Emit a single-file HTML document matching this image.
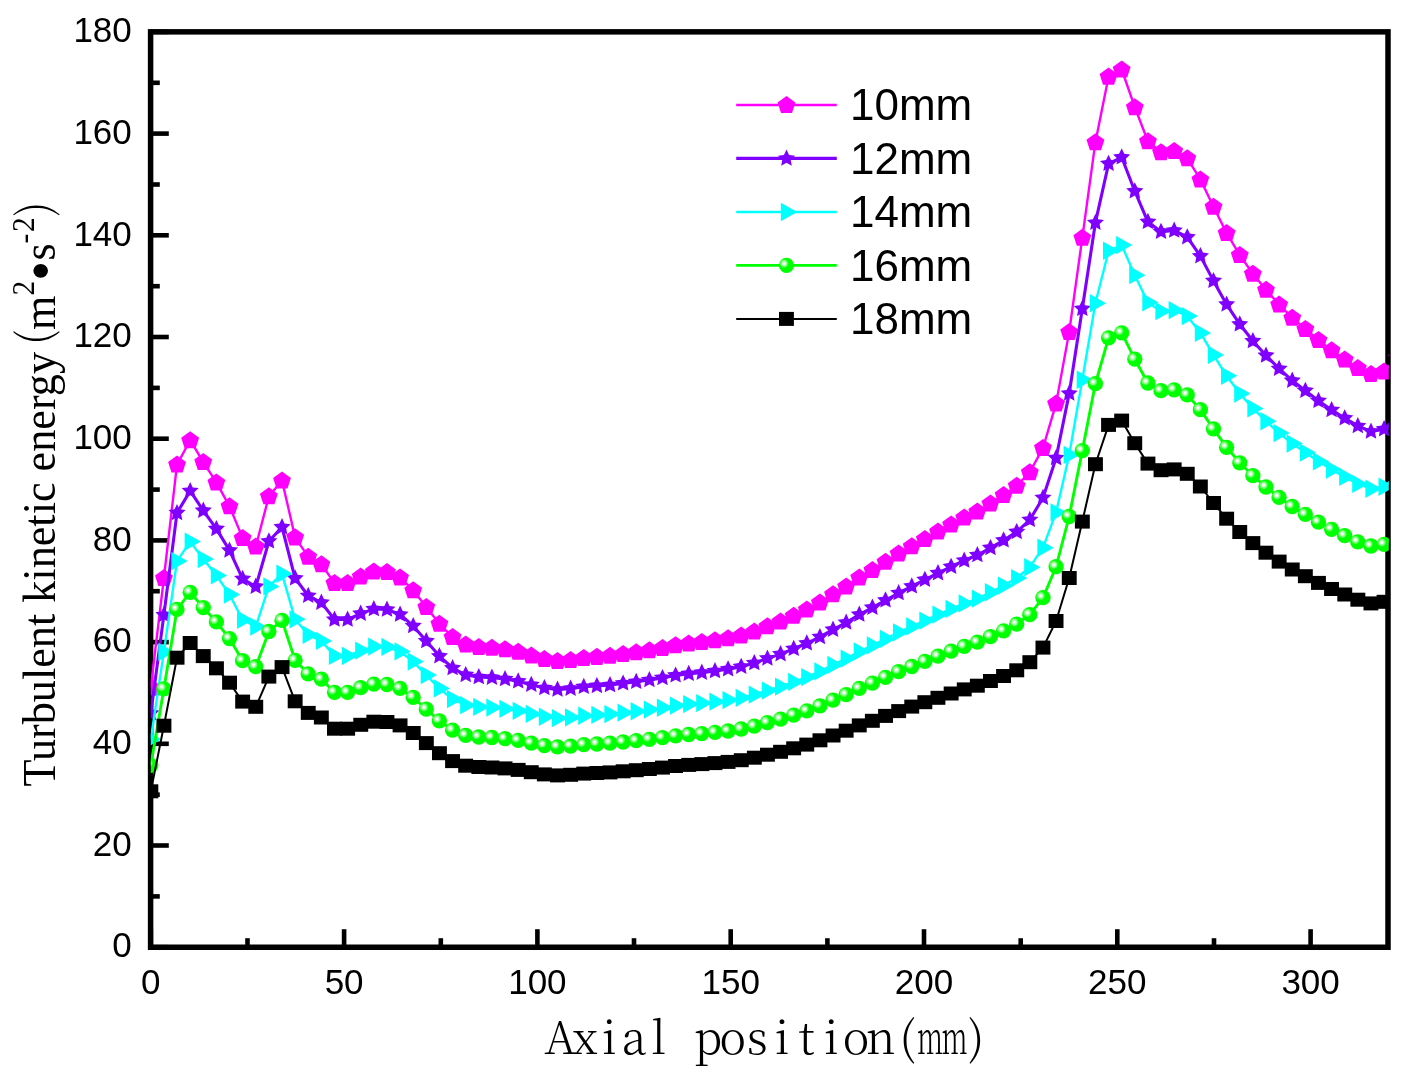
<!DOCTYPE html>
<html><head><meta charset="utf-8"><title>Turbulent kinetic energy</title>
<style>
html,body{margin:0;padding:0;background:#fff;}
svg{display:block;}
text{font-family:"Liberation Sans",sans-serif;fill:#000;}
.tk{font-size:35px;}
.lg{font-size:44px;}
.yl{font-family:"Liberation Serif",serif;font-size:44.2px;}
.pr{font-family:"Noto Serif CJK SC","Liberation Serif",serif;font-size:42px;font-weight:300;}
.xl{font-family:"Noto Serif CJK SC","Liberation Serif",serif;font-size:45px;font-weight:300;}
</style></head><body>
<svg width="1411" height="1075" viewBox="0 0 1411 1075">
<defs>
<radialGradient id="gb" cx="0.343" cy="0.376" r="0.3" fx="0.343" fy="0.376">
<stop offset="0" stop-color="#ffffff"/><stop offset="0.18" stop-color="#ffffff"/><stop offset="0.45" stop-color="#b0ffb0"/><stop offset="0.75" stop-color="#58ff58"/><stop offset="1" stop-color="#00ff00"/>
</radialGradient>
<clipPath id="cp"><rect x="150.8" y="32" width="1238" height="915.2"/></clipPath>
</defs>
<rect width="1411" height="1075" fill="#fff"/>

<rect x="150.6" y="31.85" width="1237.4" height="915.4" stroke="#000" stroke-width="5.5" fill="none"/>
<g stroke="#000" stroke-width="4.6" fill="none" stroke-linecap="butt">
<line x1="150.8" y1="947.2" x2="150.8" y2="929.2"/>
<line x1="247.5" y1="947.2" x2="247.5" y2="938.2"/>
<line x1="344.1" y1="947.2" x2="344.1" y2="929.2"/>
<line x1="440.8" y1="947.2" x2="440.8" y2="938.2"/>
<line x1="537.4" y1="947.2" x2="537.4" y2="929.2"/>
<line x1="634.0" y1="947.2" x2="634.0" y2="938.2"/>
<line x1="730.7" y1="947.2" x2="730.7" y2="929.2"/>
<line x1="827.4" y1="947.2" x2="827.4" y2="938.2"/>
<line x1="924.0" y1="947.2" x2="924.0" y2="929.2"/>
<line x1="1020.7" y1="947.2" x2="1020.7" y2="938.2"/>
<line x1="1117.3" y1="947.2" x2="1117.3" y2="929.2"/>
<line x1="1214.0" y1="947.2" x2="1214.0" y2="938.2"/>
<line x1="1310.6" y1="947.2" x2="1310.6" y2="929.2"/>
<line x1="150.8" y1="947.2" x2="168.8" y2="947.2"/>
<line x1="150.8" y1="896.4" x2="159.8" y2="896.4"/>
<line x1="150.8" y1="845.5" x2="168.8" y2="845.5"/>
<line x1="150.8" y1="794.7" x2="159.8" y2="794.7"/>
<line x1="150.8" y1="743.8" x2="168.8" y2="743.8"/>
<line x1="150.8" y1="693.0" x2="159.8" y2="693.0"/>
<line x1="150.8" y1="642.1" x2="168.8" y2="642.1"/>
<line x1="150.8" y1="591.2" x2="159.8" y2="591.2"/>
<line x1="150.8" y1="540.4" x2="168.8" y2="540.4"/>
<line x1="150.8" y1="489.6" x2="159.8" y2="489.6"/>
<line x1="150.8" y1="438.7" x2="168.8" y2="438.7"/>
<line x1="150.8" y1="387.9" x2="159.8" y2="387.9"/>
<line x1="150.8" y1="337.0" x2="168.8" y2="337.0"/>
<line x1="150.8" y1="286.2" x2="159.8" y2="286.2"/>
<line x1="150.8" y1="235.3" x2="168.8" y2="235.3"/>
<line x1="150.8" y1="184.5" x2="159.8" y2="184.5"/>
<line x1="150.8" y1="133.6" x2="168.8" y2="133.6"/>
<line x1="150.8" y1="82.8" x2="159.8" y2="82.8"/>
<line x1="150.8" y1="31.9" x2="168.8" y2="31.9"/>
</g>
<text class="tk" x="150.8" y="994.3" text-anchor="middle">0</text>
<text class="tk" x="344.1" y="994.3" text-anchor="middle">50</text>
<text class="tk" x="537.4" y="994.3" text-anchor="middle">100</text>
<text class="tk" x="730.7" y="994.3" text-anchor="middle">150</text>
<text class="tk" x="924.0" y="994.3" text-anchor="middle">200</text>
<text class="tk" x="1117.3" y="994.3" text-anchor="middle">250</text>
<text class="tk" x="1310.6" y="994.3" text-anchor="middle">300</text>
<text class="tk" x="131.8" y="957.4" text-anchor="end">0</text>
<text class="tk" x="131.8" y="855.7" text-anchor="end">20</text>
<text class="tk" x="131.8" y="754.0" text-anchor="end">40</text>
<text class="tk" x="131.8" y="652.3" text-anchor="end">60</text>
<text class="tk" x="131.8" y="550.6" text-anchor="end">80</text>
<text class="tk" x="131.8" y="448.9" text-anchor="end">100</text>
<text class="tk" x="131.8" y="347.2" text-anchor="end">120</text>
<text class="tk" x="131.8" y="245.5" text-anchor="end">140</text>
<text class="tk" x="131.8" y="143.8" text-anchor="end">160</text>
<text class="tk" x="131.8" y="42.1" text-anchor="end">180</text>
<text class="xl" y="1054.2" text-anchor="middle"><tspan x="560.2 584.9 609.5 634.2 658.8 683.5 708.1 732.8 757.4 782.1 806.7 831.4 856.0 880.7 907.5">Axial position(</tspan><tspan x="930.0" textLength="26" lengthAdjust="spacingAndGlyphs">m</tspan><tspan x="954.6" textLength="26" lengthAdjust="spacingAndGlyphs">m</tspan><tspan x="976.3">)</tspan></text>
<text class="yl" transform="translate(55.2,786.5) rotate(-90) scale(1,1.07)">Turbulent kinetic energy <tspan class="pr" dx="-4" dy="-4.5">(</tspan><tspan dy="4.5">m</tspan><tspan dy="-20.2" font-size="29.4">2</tspan><tspan dy="25.7" font-size="58">•</tspan><tspan dy="-5.5">s</tspan><tspan dy="-20.2" font-size="29.4">-</tspan><tspan dx="1.5" font-size="29.4">2</tspan><tspan class="pr" dx="1" dy="15.7">)</tspan></text>
<g clip-path="url(#cp)">
<polyline points="150.8,687.4 163.9,578.0 177.0,464.6 190.2,440.2 203.3,462.1 216.4,482.4 229.5,506.3 242.6,537.9 255.8,546.5 268.9,496.2 282.0,480.4 295.1,537.3 308.2,556.7 321.4,564.3 334.5,583.1 347.6,583.1 360.7,576.5 373.8,571.4 387.0,571.9 400.1,577.5 413.2,590.2 426.3,607.0 439.4,623.8 452.6,637.0 465.7,644.6 478.8,646.9 491.9,647.7 505.0,649.2 518.2,651.8 531.3,655.6 544.4,659.1 557.5,660.9 570.6,659.9 583.8,657.9 596.9,656.8 610.0,655.8 623.1,654.0 636.2,652.3 649.4,650.2 662.5,647.9 675.6,645.2 688.7,643.4 701.8,642.1 715.0,640.3 728.1,638.3 741.2,635.5 754.3,631.4 767.4,626.3 780.6,621.5 793.7,615.7 806.8,609.6 819.9,602.4 833.0,594.3 846.2,586.4 859.3,577.5 872.4,569.9 885.5,561.8 898.6,553.6 911.8,546.2 924.9,538.9 938.0,531.5 951.1,524.4 964.2,517.5 977.4,511.4 990.5,503.5 1003.6,495.1 1016.7,485.7 1029.8,472.3 1043.0,447.9 1056.1,403.6 1069.2,331.9 1082.3,237.8 1095.4,142.2 1108.6,76.6 1121.7,69.5 1134.8,107.2 1147.9,141.2 1161.0,152.2 1174.2,150.9 1187.3,158.3 1200.4,179.4 1213.5,206.8 1226.6,233.0 1239.8,255.1 1252.9,273.7 1266.0,289.7 1279.1,304.5 1292.2,317.7 1305.4,328.9 1318.5,340.1 1331.6,350.2 1344.7,359.4 1357.8,368.0 1371.0,374.1 1384.1,371.6 1397.2,357.3" fill="none" stroke="#ff00ff" stroke-width="2.4" stroke-linejoin="round"/>
<polygon points="150.8,678.4 159.7,684.9 156.3,695.4 145.3,695.4 141.9,684.9" fill="#ff00ff"/>
<polygon points="163.9,569.0 172.9,575.5 169.4,586.0 158.4,586.0 155.0,575.5" fill="#ff00ff"/>
<polygon points="177.0,455.6 186.0,462.1 182.6,472.6 171.5,472.6 168.1,462.1" fill="#ff00ff"/>
<polygon points="190.2,431.2 199.1,437.7 195.7,448.2 184.6,448.2 181.2,437.7" fill="#ff00ff"/>
<polygon points="203.3,453.1 212.2,459.6 208.8,470.1 197.8,470.1 194.3,459.6" fill="#ff00ff"/>
<polygon points="216.4,473.4 225.3,479.9 221.9,490.4 210.9,490.4 207.5,479.9" fill="#ff00ff"/>
<polygon points="229.5,497.3 238.5,503.8 235.0,514.3 224.0,514.3 220.6,503.8" fill="#ff00ff"/>
<polygon points="242.6,528.9 251.6,535.4 248.2,545.9 237.1,545.9 233.7,535.4" fill="#ff00ff"/>
<polygon points="255.8,537.5 264.7,544.0 261.3,554.5 250.2,554.5 246.8,544.0" fill="#ff00ff"/>
<polygon points="268.9,487.2 277.8,493.7 274.4,504.2 263.4,504.2 259.9,493.7" fill="#ff00ff"/>
<polygon points="282.0,471.4 290.9,477.9 287.5,488.4 276.5,488.4 273.1,477.9" fill="#ff00ff"/>
<polygon points="295.1,528.3 304.1,534.8 300.6,545.4 289.6,545.4 286.2,534.8" fill="#ff00ff"/>
<polygon points="308.2,547.7 317.2,554.2 313.8,564.7 302.7,564.7 299.3,554.2" fill="#ff00ff"/>
<polygon points="321.4,555.3 330.3,561.8 326.9,572.3 315.8,572.3 312.4,561.8" fill="#ff00ff"/>
<polygon points="334.5,574.1 343.4,580.6 340.0,591.1 329.0,591.1 325.5,580.6" fill="#ff00ff"/>
<polygon points="347.6,574.1 356.5,580.6 353.1,591.1 342.1,591.1 338.7,580.6" fill="#ff00ff"/>
<polygon points="360.7,567.5 369.7,574.0 366.2,584.5 355.2,584.5 351.8,574.0" fill="#ff00ff"/>
<polygon points="373.8,562.4 382.8,568.9 379.4,579.4 368.3,579.4 364.9,568.9" fill="#ff00ff"/>
<polygon points="387.0,562.9 395.9,569.4 392.5,579.9 381.4,579.9 378.0,569.4" fill="#ff00ff"/>
<polygon points="400.1,568.5 409.0,575.0 405.6,585.5 394.6,585.5 391.1,575.0" fill="#ff00ff"/>
<polygon points="413.2,581.2 422.1,587.7 418.7,598.2 407.7,598.2 404.3,587.7" fill="#ff00ff"/>
<polygon points="426.3,598.0 435.3,604.5 431.8,615.0 420.8,615.0 417.4,604.5" fill="#ff00ff"/>
<polygon points="439.4,614.8 448.4,621.3 445.0,631.8 433.9,631.8 430.5,621.3" fill="#ff00ff"/>
<polygon points="452.6,628.0 461.5,634.5 458.1,645.0 447.0,645.0 443.6,634.5" fill="#ff00ff"/>
<polygon points="465.7,635.6 474.6,642.1 471.2,652.6 460.2,652.6 456.7,642.1" fill="#ff00ff"/>
<polygon points="478.8,637.9 487.7,644.4 484.3,654.9 473.3,654.9 469.9,644.4" fill="#ff00ff"/>
<polygon points="491.9,638.7 500.9,645.2 497.4,655.7 486.4,655.7 483.0,645.2" fill="#ff00ff"/>
<polygon points="505.0,640.2 514.0,646.7 510.6,657.2 499.5,657.2 496.1,646.7" fill="#ff00ff"/>
<polygon points="518.2,642.8 527.1,649.3 523.7,659.8 512.6,659.8 509.2,649.3" fill="#ff00ff"/>
<polygon points="531.3,646.6 540.2,653.1 536.8,663.6 525.8,663.6 522.3,653.1" fill="#ff00ff"/>
<polygon points="544.4,650.1 553.3,656.6 549.9,667.1 538.9,667.1 535.5,656.6" fill="#ff00ff"/>
<polygon points="557.5,651.9 566.5,658.4 563.0,668.9 552.0,668.9 548.6,658.4" fill="#ff00ff"/>
<polygon points="570.6,650.9 579.6,657.4 576.2,667.9 565.1,667.9 561.7,657.4" fill="#ff00ff"/>
<polygon points="583.8,648.9 592.7,655.4 589.3,665.9 578.2,665.9 574.8,655.4" fill="#ff00ff"/>
<polygon points="596.9,647.8 605.8,654.3 602.4,664.9 591.4,664.9 587.9,654.3" fill="#ff00ff"/>
<polygon points="610.0,646.8 618.9,653.3 615.5,663.8 604.5,663.8 601.1,653.3" fill="#ff00ff"/>
<polygon points="623.1,645.0 632.1,651.5 628.6,662.1 617.6,662.1 614.2,651.5" fill="#ff00ff"/>
<polygon points="636.2,643.3 645.2,649.8 641.8,660.3 630.7,660.3 627.3,649.8" fill="#ff00ff"/>
<polygon points="649.4,641.2 658.3,647.7 654.9,658.2 643.8,658.2 640.4,647.7" fill="#ff00ff"/>
<polygon points="662.5,638.9 671.4,645.4 668.0,656.0 657.0,656.0 653.5,645.4" fill="#ff00ff"/>
<polygon points="675.6,636.2 684.5,642.6 681.1,653.2 670.1,653.2 666.7,642.6" fill="#ff00ff"/>
<polygon points="688.7,634.4 697.7,640.9 694.2,651.4 683.2,651.4 679.8,640.9" fill="#ff00ff"/>
<polygon points="701.8,633.1 710.8,639.6 707.4,650.1 696.3,650.1 692.9,639.6" fill="#ff00ff"/>
<polygon points="715.0,631.3 723.9,637.8 720.5,648.3 709.4,648.3 706.0,637.8" fill="#ff00ff"/>
<polygon points="728.1,629.3 737.0,635.8 733.6,646.3 722.6,646.3 719.1,635.8" fill="#ff00ff"/>
<polygon points="741.2,626.5 750.1,633.0 746.7,643.5 735.7,643.5 732.3,633.0" fill="#ff00ff"/>
<polygon points="754.3,622.4 763.3,628.9 759.8,639.4 748.8,639.4 745.4,628.9" fill="#ff00ff"/>
<polygon points="767.4,617.3 776.4,623.8 773.0,634.3 761.9,634.3 758.5,623.8" fill="#ff00ff"/>
<polygon points="780.6,612.5 789.5,619.0 786.1,629.5 775.0,629.5 771.6,619.0" fill="#ff00ff"/>
<polygon points="793.7,606.7 802.6,613.2 799.2,623.7 788.2,623.7 784.7,613.2" fill="#ff00ff"/>
<polygon points="806.8,600.6 815.7,607.1 812.3,617.6 801.3,617.6 797.9,607.1" fill="#ff00ff"/>
<polygon points="819.9,593.4 828.9,599.9 825.4,610.4 814.4,610.4 811.0,599.9" fill="#ff00ff"/>
<polygon points="833.0,585.3 842.0,591.8 838.6,602.3 827.5,602.3 824.1,591.8" fill="#ff00ff"/>
<polygon points="846.2,577.4 855.1,583.9 851.7,594.4 840.6,594.4 837.2,583.9" fill="#ff00ff"/>
<polygon points="859.3,568.5 868.2,575.0 864.8,585.5 853.8,585.5 850.3,575.0" fill="#ff00ff"/>
<polygon points="872.4,560.9 881.3,567.4 877.9,577.9 866.9,577.9 863.5,567.4" fill="#ff00ff"/>
<polygon points="885.5,552.8 894.5,559.3 891.0,569.8 880.0,569.8 876.6,559.3" fill="#ff00ff"/>
<polygon points="898.6,544.6 907.6,551.1 904.2,561.6 893.1,561.6 889.7,551.1" fill="#ff00ff"/>
<polygon points="911.8,537.2 920.7,543.7 917.3,554.3 906.2,554.3 902.8,543.7" fill="#ff00ff"/>
<polygon points="924.9,529.9 933.8,536.4 930.4,546.9 919.4,546.9 915.9,536.4" fill="#ff00ff"/>
<polygon points="938.0,522.5 946.9,529.0 943.5,539.5 932.5,539.5 929.1,529.0" fill="#ff00ff"/>
<polygon points="951.1,515.4 960.1,521.9 956.6,532.4 945.6,532.4 942.2,521.9" fill="#ff00ff"/>
<polygon points="964.2,508.5 973.2,515.0 969.8,525.5 958.7,525.5 955.3,515.0" fill="#ff00ff"/>
<polygon points="977.4,502.4 986.3,508.9 982.9,519.4 971.8,519.4 968.4,508.9" fill="#ff00ff"/>
<polygon points="990.5,494.5 999.4,501.0 996.0,511.5 985.0,511.5 981.5,501.0" fill="#ff00ff"/>
<polygon points="1003.6,486.1 1012.5,492.6 1009.1,503.1 998.1,503.1 994.7,492.6" fill="#ff00ff"/>
<polygon points="1016.7,476.7 1025.7,483.2 1022.2,493.7 1011.2,493.7 1007.8,483.2" fill="#ff00ff"/>
<polygon points="1029.8,463.3 1038.8,469.8 1035.4,480.3 1024.3,480.3 1020.9,469.8" fill="#ff00ff"/>
<polygon points="1043.0,438.9 1051.9,445.3 1048.5,455.9 1037.4,455.9 1034.0,445.3" fill="#ff00ff"/>
<polygon points="1056.1,394.6 1065.0,401.1 1061.6,411.6 1050.6,411.6 1047.1,401.1" fill="#ff00ff"/>
<polygon points="1069.2,322.9 1078.1,329.4 1074.7,339.9 1063.7,339.9 1060.3,329.4" fill="#ff00ff"/>
<polygon points="1082.3,228.8 1091.3,235.3 1087.8,245.8 1076.8,245.8 1073.4,235.3" fill="#ff00ff"/>
<polygon points="1095.4,133.2 1104.4,139.7 1101.0,150.2 1089.9,150.2 1086.5,139.7" fill="#ff00ff"/>
<polygon points="1108.6,67.6 1117.5,74.1 1114.1,84.7 1103.0,84.7 1099.6,74.1" fill="#ff00ff"/>
<polygon points="1121.7,60.5 1130.6,67.0 1127.2,77.5 1116.2,77.5 1112.7,67.0" fill="#ff00ff"/>
<polygon points="1134.8,98.2 1143.7,104.7 1140.3,115.2 1129.3,115.2 1125.9,104.7" fill="#ff00ff"/>
<polygon points="1147.9,132.2 1156.9,138.7 1153.4,149.2 1142.4,149.2 1139.0,138.7" fill="#ff00ff"/>
<polygon points="1161.0,143.2 1170.0,149.7 1166.6,160.2 1155.5,160.2 1152.1,149.7" fill="#ff00ff"/>
<polygon points="1174.2,141.9 1183.1,148.4 1179.7,158.9 1168.6,158.9 1165.2,148.4" fill="#ff00ff"/>
<polygon points="1187.3,149.3 1196.2,155.8 1192.8,166.3 1181.8,166.3 1178.3,155.8" fill="#ff00ff"/>
<polygon points="1200.4,170.4 1209.3,176.9 1205.9,187.4 1194.9,187.4 1191.5,176.9" fill="#ff00ff"/>
<polygon points="1213.5,197.8 1222.5,204.3 1219.0,214.8 1208.0,214.8 1204.6,204.3" fill="#ff00ff"/>
<polygon points="1226.6,224.0 1235.6,230.5 1232.2,241.0 1221.1,241.0 1217.7,230.5" fill="#ff00ff"/>
<polygon points="1239.8,246.1 1248.7,252.6 1245.3,263.1 1234.2,263.1 1230.8,252.6" fill="#ff00ff"/>
<polygon points="1252.9,264.7 1261.8,271.2 1258.4,281.7 1247.4,281.7 1243.9,271.2" fill="#ff00ff"/>
<polygon points="1266.0,280.7 1274.9,287.2 1271.5,297.7 1260.5,297.7 1257.1,287.2" fill="#ff00ff"/>
<polygon points="1279.1,295.5 1288.1,302.0 1284.6,312.5 1273.6,312.5 1270.2,302.0" fill="#ff00ff"/>
<polygon points="1292.2,308.7 1301.2,315.2 1297.8,325.7 1286.7,325.7 1283.3,315.2" fill="#ff00ff"/>
<polygon points="1305.4,319.9 1314.3,326.4 1310.9,336.9 1299.8,336.9 1296.4,326.4" fill="#ff00ff"/>
<polygon points="1318.5,331.1 1327.4,337.5 1324.0,348.1 1313.0,348.1 1309.5,337.5" fill="#ff00ff"/>
<polygon points="1331.6,341.2 1340.5,347.7 1337.1,358.2 1326.1,358.2 1322.7,347.7" fill="#ff00ff"/>
<polygon points="1344.7,350.4 1353.7,356.9 1350.2,367.4 1339.2,367.4 1335.8,356.9" fill="#ff00ff"/>
<polygon points="1357.8,359.0 1366.8,365.5 1363.4,376.0 1352.3,376.0 1348.9,365.5" fill="#ff00ff"/>
<polygon points="1371.0,365.1 1379.9,371.6 1376.5,382.1 1365.4,382.1 1362.0,371.6" fill="#ff00ff"/>
<polygon points="1384.1,362.6 1393.0,369.1 1389.6,379.6 1378.6,379.6 1375.1,369.1" fill="#ff00ff"/>
<polygon points="1397.2,348.3 1406.1,354.8 1402.7,365.3 1391.7,365.3 1388.3,354.8" fill="#ff00ff"/>
<polyline points="150.8,713.3 163.9,614.9 177.0,512.9 190.2,490.9 203.3,510.6 216.4,528.9 229.5,550.4 242.6,578.8 255.8,586.6 268.9,541.3 282.0,527.1 295.1,578.3 308.2,595.7 321.4,602.6 334.5,619.5 347.6,619.5 360.7,613.6 373.8,609.0 387.0,609.5 400.1,614.5 413.2,625.9 426.3,641.0 439.4,656.1 452.6,668.0 465.7,674.9 478.8,677.0 491.9,677.6 505.0,679.0 518.2,681.3 531.3,684.7 544.4,687.9 557.5,689.5 570.6,688.6 583.8,686.8 596.9,685.9 610.0,685.0 623.1,683.4 636.2,681.8 649.4,679.9 662.5,677.9 675.6,675.4 688.7,673.8 701.8,672.6 715.0,671.0 728.1,669.2 741.2,666.7 754.3,663.0 767.4,658.4 780.6,654.1 793.7,648.8 806.8,643.3 819.9,636.9 833.0,629.6 846.2,622.5 859.3,614.5 872.4,607.6 885.5,600.3 898.6,593.0 911.8,586.3 924.9,579.7 938.0,573.1 951.1,566.7 964.2,560.5 977.4,555.0 990.5,547.9 1003.6,540.3 1016.7,531.9 1029.8,519.8 1043.0,497.8 1056.1,458.0 1069.2,393.4 1082.3,308.8 1095.4,222.7 1108.6,163.7 1121.7,157.3 1134.8,191.2 1147.9,221.8 1161.0,231.7 1174.2,230.5 1187.3,237.2 1200.4,256.1 1213.5,280.9 1226.6,304.4 1239.8,324.3 1252.9,341.0 1266.0,355.5 1279.1,368.7 1292.2,380.6 1305.4,390.7 1318.5,400.8 1331.6,409.9 1344.7,418.2 1357.8,425.9 1371.0,431.4 1384.1,429.1 1397.2,416.3" fill="none" stroke="#8000ff" stroke-width="3.1" stroke-linejoin="round"/>
<polygon points="150.8,704.3 153.4,709.8 159.4,710.6 155.0,714.7 156.1,720.6 150.8,717.7 145.5,720.6 146.6,714.7 142.2,710.6 148.2,709.8" fill="#8000ff"/>
<polygon points="163.9,605.9 166.5,611.4 172.5,612.2 168.1,616.3 169.2,622.2 163.9,619.3 158.6,622.2 159.7,616.3 155.4,612.2 161.3,611.4" fill="#8000ff"/>
<polygon points="177.0,503.9 179.6,509.3 185.6,510.1 181.2,514.2 182.3,520.2 177.0,517.3 171.7,520.2 172.9,514.2 168.5,510.1 174.5,509.3" fill="#8000ff"/>
<polygon points="190.2,481.9 192.7,487.4 198.7,488.1 194.3,492.3 195.5,498.2 190.2,495.3 184.9,498.2 186.0,492.3 181.6,488.1 187.6,487.4" fill="#8000ff"/>
<polygon points="203.3,501.6 205.9,507.0 211.8,507.8 207.5,512.0 208.6,517.9 203.3,515.0 198.0,517.9 199.1,512.0 194.7,507.8 200.7,507.0" fill="#8000ff"/>
<polygon points="216.4,519.9 219.0,525.3 225.0,526.1 220.6,530.3 221.7,536.2 216.4,533.3 211.1,536.2 212.2,530.3 207.8,526.1 213.8,525.3" fill="#8000ff"/>
<polygon points="229.5,541.4 232.1,546.9 238.1,547.6 233.7,551.8 234.8,557.7 229.5,554.8 224.2,557.7 225.3,551.8 221.0,547.6 226.9,546.9" fill="#8000ff"/>
<polygon points="242.6,569.8 245.2,575.2 251.2,576.0 246.8,580.2 247.9,586.1 242.6,583.2 237.3,586.1 238.5,580.2 234.1,576.0 240.1,575.2" fill="#8000ff"/>
<polygon points="255.8,577.6 258.3,583.0 264.3,583.8 259.9,587.9 261.1,593.9 255.8,591.0 250.5,593.9 251.6,587.9 247.2,583.8 253.2,583.0" fill="#8000ff"/>
<polygon points="268.9,532.3 271.5,537.7 277.4,538.5 273.1,542.6 274.2,548.5 268.9,545.7 263.6,548.5 264.7,542.6 260.3,538.5 266.3,537.7" fill="#8000ff"/>
<polygon points="282.0,518.1 284.6,523.5 290.6,524.3 286.2,528.4 287.3,534.4 282.0,531.5 276.7,534.4 277.8,528.4 273.4,524.3 279.4,523.5" fill="#8000ff"/>
<polygon points="295.1,569.3 297.7,574.8 303.7,575.6 299.3,579.7 300.4,585.6 295.1,582.7 289.8,585.6 290.9,579.7 286.6,575.6 292.5,574.8" fill="#8000ff"/>
<polygon points="308.2,586.7 310.8,592.2 316.8,592.9 312.4,597.1 313.5,603.0 308.2,600.1 302.9,603.0 304.1,597.1 299.7,592.9 305.7,592.2" fill="#8000ff"/>
<polygon points="321.4,593.6 323.9,599.0 329.9,599.8 325.5,603.9 326.7,609.9 321.4,607.0 316.1,609.9 317.2,603.9 312.8,599.8 318.8,599.0" fill="#8000ff"/>
<polygon points="334.5,610.5 337.1,616.0 343.0,616.7 338.7,620.9 339.8,626.8 334.5,623.9 329.2,626.8 330.3,620.9 325.9,616.7 331.9,616.0" fill="#8000ff"/>
<polygon points="347.6,610.5 350.2,616.0 356.2,616.7 351.8,620.9 352.9,626.8 347.6,623.9 342.3,626.8 343.4,620.9 339.0,616.7 345.0,616.0" fill="#8000ff"/>
<polygon points="360.7,604.6 363.3,610.0 369.3,610.8 364.9,614.9 366.0,620.9 360.7,618.0 355.4,620.9 356.5,614.9 352.2,610.8 358.1,610.0" fill="#8000ff"/>
<polygon points="373.8,600.0 376.4,605.4 382.4,606.2 378.0,610.4 379.1,616.3 373.8,613.4 368.5,616.3 369.7,610.4 365.3,606.2 371.3,605.4" fill="#8000ff"/>
<polygon points="387.0,600.5 389.5,605.9 395.5,606.7 391.1,610.8 392.3,616.7 387.0,613.9 381.7,616.7 382.8,610.8 378.4,606.7 384.4,605.9" fill="#8000ff"/>
<polygon points="400.1,605.5 402.7,610.9 408.6,611.7 404.3,615.8 405.4,621.8 400.1,618.9 394.8,621.8 395.9,615.8 391.5,611.7 397.5,610.9" fill="#8000ff"/>
<polygon points="413.2,616.9 415.8,622.4 421.8,623.1 417.4,627.3 418.5,633.2 413.2,630.3 407.9,633.2 409.0,627.3 404.6,623.1 410.6,622.4" fill="#8000ff"/>
<polygon points="426.3,632.0 428.9,637.5 434.9,638.3 430.5,642.4 431.6,648.3 426.3,645.4 421.0,648.3 422.1,642.4 417.8,638.3 423.7,637.5" fill="#8000ff"/>
<polygon points="439.4,647.1 442.0,652.6 448.0,653.4 443.6,657.5 444.7,663.4 439.4,660.5 434.1,663.4 435.3,657.5 430.9,653.4 436.9,652.6" fill="#8000ff"/>
<polygon points="452.6,659.0 455.1,664.5 461.1,665.3 456.7,669.4 457.9,675.3 452.6,672.4 447.3,675.3 448.4,669.4 444.0,665.3 450.0,664.5" fill="#8000ff"/>
<polygon points="465.7,665.9 468.3,671.3 474.2,672.1 469.9,676.3 471.0,682.2 465.7,679.3 460.4,682.2 461.5,676.3 457.1,672.1 463.1,671.3" fill="#8000ff"/>
<polygon points="478.8,668.0 481.4,673.4 487.4,674.2 483.0,678.3 484.1,684.2 478.8,681.4 473.5,684.2 474.6,678.3 470.2,674.2 476.2,673.4" fill="#8000ff"/>
<polygon points="491.9,668.6 494.5,674.1 500.5,674.9 496.1,679.0 497.2,684.9 491.9,682.0 486.6,684.9 487.7,679.0 483.4,674.9 489.3,674.1" fill="#8000ff"/>
<polygon points="505.0,670.0 507.6,675.5 513.6,676.2 509.2,680.4 510.3,686.3 505.0,683.4 499.7,686.3 500.9,680.4 496.5,676.2 502.5,675.5" fill="#8000ff"/>
<polygon points="518.2,672.3 520.7,677.7 526.7,678.5 522.3,682.7 523.5,688.6 518.2,685.7 512.9,688.6 514.0,682.7 509.6,678.5 515.6,677.7" fill="#8000ff"/>
<polygon points="531.3,675.7 533.9,681.2 539.8,682.0 535.5,686.1 536.6,692.0 531.3,689.1 526.0,692.0 527.1,686.1 522.7,682.0 528.7,681.2" fill="#8000ff"/>
<polygon points="544.4,678.9 547.0,684.4 553.0,685.2 548.6,689.3 549.7,695.2 544.4,692.3 539.1,695.2 540.2,689.3 535.8,685.2 541.8,684.4" fill="#8000ff"/>
<polygon points="557.5,680.5 560.1,686.0 566.1,686.8 561.7,690.9 562.8,696.8 557.5,693.9 552.2,696.8 553.3,690.9 549.0,686.8 554.9,686.0" fill="#8000ff"/>
<polygon points="570.6,679.6 573.2,685.1 579.2,685.8 574.8,690.0 575.9,695.9 570.6,693.0 565.3,695.9 566.5,690.0 562.1,685.8 568.1,685.1" fill="#8000ff"/>
<polygon points="583.8,677.8 586.3,683.2 592.3,684.0 587.9,688.2 589.1,694.1 583.8,691.2 578.5,694.1 579.6,688.2 575.2,684.0 581.2,683.2" fill="#8000ff"/>
<polygon points="596.9,676.9 599.5,682.3 605.4,683.1 601.1,687.2 602.2,693.2 596.9,690.3 591.6,693.2 592.7,687.2 588.3,683.1 594.3,682.3" fill="#8000ff"/>
<polygon points="610.0,676.0 612.6,681.4 618.6,682.2 614.2,686.3 615.3,692.2 610.0,689.4 604.7,692.2 605.8,686.3 601.4,682.2 607.4,681.4" fill="#8000ff"/>
<polygon points="623.1,674.4 625.7,679.8 631.7,680.6 627.3,684.7 628.4,690.6 623.1,687.8 617.8,690.6 618.9,684.7 614.6,680.6 620.5,679.8" fill="#8000ff"/>
<polygon points="636.2,672.8 638.8,678.2 644.8,679.0 640.4,683.1 641.5,689.0 636.2,686.2 630.9,689.0 632.1,683.1 627.7,679.0 633.7,678.2" fill="#8000ff"/>
<polygon points="649.4,670.9 651.9,676.4 657.9,677.2 653.5,681.3 654.7,687.2 649.4,684.3 644.1,687.2 645.2,681.3 640.8,677.2 646.8,676.4" fill="#8000ff"/>
<polygon points="662.5,668.9 665.1,674.3 671.0,675.1 666.7,679.2 667.8,685.2 662.5,682.3 657.2,685.2 658.3,679.2 653.9,675.1 659.9,674.3" fill="#8000ff"/>
<polygon points="675.6,666.4 678.2,671.8 684.2,672.6 679.8,676.7 680.9,682.6 675.6,679.8 670.3,682.6 671.4,676.7 667.0,672.6 673.0,671.8" fill="#8000ff"/>
<polygon points="688.7,664.8 691.3,670.2 697.3,671.0 692.9,675.1 694.0,681.0 688.7,678.2 683.4,681.0 684.5,675.1 680.2,671.0 686.1,670.2" fill="#8000ff"/>
<polygon points="701.8,663.6 704.4,669.1 710.4,669.8 706.0,674.0 707.1,679.9 701.8,677.0 696.5,679.9 697.7,674.0 693.3,669.8 699.3,669.1" fill="#8000ff"/>
<polygon points="715.0,662.0 717.5,667.4 723.5,668.2 719.1,672.4 720.3,678.3 715.0,675.4 709.7,678.3 710.8,672.4 706.4,668.2 712.4,667.4" fill="#8000ff"/>
<polygon points="728.1,660.2 730.7,665.6 736.6,666.4 732.3,670.5 733.4,676.5 728.1,673.6 722.8,676.5 723.9,670.5 719.5,666.4 725.5,665.6" fill="#8000ff"/>
<polygon points="741.2,657.7 743.8,663.1 749.8,663.9 745.4,668.0 746.5,673.9 741.2,671.1 735.9,673.9 737.0,668.0 732.6,663.9 738.6,663.1" fill="#8000ff"/>
<polygon points="754.3,654.0 756.9,659.4 762.9,660.2 758.5,664.4 759.6,670.3 754.3,667.4 749.0,670.3 750.1,664.4 745.8,660.2 751.7,659.4" fill="#8000ff"/>
<polygon points="767.4,649.4 770.0,654.9 776.0,655.6 771.6,659.8 772.7,665.7 767.4,662.8 762.1,665.7 763.3,659.8 758.9,655.6 764.9,654.9" fill="#8000ff"/>
<polygon points="780.6,645.1 783.1,650.5 789.1,651.3 784.7,655.4 785.9,661.4 780.6,658.5 775.3,661.4 776.4,655.4 772.0,651.3 778.0,650.5" fill="#8000ff"/>
<polygon points="793.7,639.8 796.3,645.3 802.2,646.0 797.9,650.2 799.0,656.1 793.7,653.2 788.4,656.1 789.5,650.2 785.1,646.0 791.1,645.3" fill="#8000ff"/>
<polygon points="806.8,634.3 809.4,639.8 815.4,640.5 811.0,644.7 812.1,650.6 806.8,647.7 801.5,650.6 802.6,644.7 798.2,640.5 804.2,639.8" fill="#8000ff"/>
<polygon points="819.9,627.9 822.5,633.4 828.5,634.1 824.1,638.3 825.2,644.2 819.9,641.3 814.6,644.2 815.7,638.3 811.4,634.1 817.3,633.4" fill="#8000ff"/>
<polygon points="833.0,620.6 835.6,626.0 841.6,626.8 837.2,631.0 838.3,636.9 833.0,634.0 827.7,636.9 828.9,631.0 824.5,626.8 830.5,626.0" fill="#8000ff"/>
<polygon points="846.2,613.5 848.7,618.9 854.7,619.7 850.3,623.9 851.5,629.8 846.2,626.9 840.9,629.8 842.0,623.9 837.6,619.7 843.6,618.9" fill="#8000ff"/>
<polygon points="859.3,605.5 861.9,610.9 867.8,611.7 863.5,615.8 864.6,621.8 859.3,618.9 854.0,621.8 855.1,615.8 850.7,611.7 856.7,610.9" fill="#8000ff"/>
<polygon points="872.4,598.6 875.0,604.1 881.0,604.8 876.6,609.0 877.7,614.9 872.4,612.0 867.1,614.9 868.2,609.0 863.8,604.8 869.8,604.1" fill="#8000ff"/>
<polygon points="885.5,591.3 888.1,596.7 894.1,597.5 889.7,601.7 890.8,607.6 885.5,604.7 880.2,607.6 881.3,601.7 877.0,597.5 882.9,596.7" fill="#8000ff"/>
<polygon points="898.6,584.0 901.2,589.4 907.2,590.2 902.8,594.3 903.9,600.3 898.6,597.4 893.3,600.3 894.5,594.3 890.1,590.2 896.1,589.4" fill="#8000ff"/>
<polygon points="911.8,577.3 914.3,582.8 920.3,583.6 915.9,587.7 917.1,593.6 911.8,590.7 906.5,593.6 907.6,587.7 903.2,583.6 909.2,582.8" fill="#8000ff"/>
<polygon points="924.9,570.7 927.5,576.1 933.4,576.9 929.1,581.1 930.2,587.0 924.9,584.1 919.6,587.0 920.7,581.1 916.3,576.9 922.3,576.1" fill="#8000ff"/>
<polygon points="938.0,564.1 940.6,569.5 946.6,570.3 942.2,574.4 943.3,580.4 938.0,577.5 932.7,580.4 933.8,574.4 929.4,570.3 935.4,569.5" fill="#8000ff"/>
<polygon points="951.1,557.7 953.7,563.1 959.7,563.9 955.3,568.0 956.4,573.9 951.1,571.1 945.8,573.9 946.9,568.0 942.6,563.9 948.5,563.1" fill="#8000ff"/>
<polygon points="964.2,551.5 966.8,556.9 972.8,557.7 968.4,561.8 969.5,567.8 964.2,564.9 958.9,567.8 960.1,561.8 955.7,557.7 961.7,556.9" fill="#8000ff"/>
<polygon points="977.4,546.0 979.9,551.4 985.9,552.2 981.5,556.4 982.7,562.3 977.4,559.4 972.1,562.3 973.2,556.4 968.8,552.2 974.8,551.4" fill="#8000ff"/>
<polygon points="990.5,538.9 993.1,544.3 999.0,545.1 994.7,549.3 995.8,555.2 990.5,552.3 985.2,555.2 986.3,549.3 981.9,545.1 987.9,544.3" fill="#8000ff"/>
<polygon points="1003.6,531.3 1006.2,536.8 1012.2,537.6 1007.8,541.7 1008.9,547.6 1003.6,544.7 998.3,547.6 999.4,541.7 995.0,537.6 1001.0,536.8" fill="#8000ff"/>
<polygon points="1016.7,522.9 1019.3,528.3 1025.3,529.1 1020.9,533.2 1022.0,539.2 1016.7,536.3 1011.4,539.2 1012.5,533.2 1008.2,529.1 1014.1,528.3" fill="#8000ff"/>
<polygon points="1029.8,510.8 1032.4,516.2 1038.4,517.0 1034.0,521.1 1035.1,527.0 1029.8,524.2 1024.5,527.0 1025.7,521.1 1021.3,517.0 1027.3,516.2" fill="#8000ff"/>
<polygon points="1043.0,488.8 1045.5,494.2 1051.5,495.0 1047.1,499.1 1048.3,505.1 1043.0,502.2 1037.7,505.1 1038.8,499.1 1034.4,495.0 1040.4,494.2" fill="#8000ff"/>
<polygon points="1056.1,449.0 1058.7,454.4 1064.6,455.2 1060.3,459.3 1061.4,465.3 1056.1,462.4 1050.8,465.3 1051.9,459.3 1047.5,455.2 1053.5,454.4" fill="#8000ff"/>
<polygon points="1069.2,384.4 1071.8,389.9 1077.8,390.7 1073.4,394.8 1074.5,400.7 1069.2,397.8 1063.9,400.7 1065.0,394.8 1060.6,390.7 1066.6,389.9" fill="#8000ff"/>
<polygon points="1082.3,299.8 1084.9,305.2 1090.9,306.0 1086.5,310.1 1087.6,316.1 1082.3,313.2 1077.0,316.1 1078.1,310.1 1073.8,306.0 1079.7,305.2" fill="#8000ff"/>
<polygon points="1095.4,213.7 1098.0,219.2 1104.0,220.0 1099.6,224.1 1100.7,230.0 1095.4,227.1 1090.1,230.0 1091.3,224.1 1086.9,220.0 1092.9,219.2" fill="#8000ff"/>
<polygon points="1108.6,154.7 1111.1,160.1 1117.1,160.9 1112.7,165.1 1113.9,171.0 1108.6,168.1 1103.3,171.0 1104.4,165.1 1100.0,160.9 1106.0,160.1" fill="#8000ff"/>
<polygon points="1121.7,148.3 1124.3,153.7 1130.2,154.5 1125.9,158.7 1127.0,164.6 1121.7,161.7 1116.4,164.6 1117.5,158.7 1113.1,154.5 1119.1,153.7" fill="#8000ff"/>
<polygon points="1134.8,182.2 1137.4,187.6 1143.4,188.4 1139.0,192.5 1140.1,198.4 1134.8,195.6 1129.5,198.4 1130.6,192.5 1126.2,188.4 1132.2,187.6" fill="#8000ff"/>
<polygon points="1147.9,212.8 1150.5,218.3 1156.5,219.0 1152.1,223.2 1153.2,229.1 1147.9,226.2 1142.6,229.1 1143.7,223.2 1139.4,219.0 1145.3,218.3" fill="#8000ff"/>
<polygon points="1161.0,222.7 1163.6,228.1 1169.6,228.9 1165.2,233.0 1166.3,238.9 1161.0,236.1 1155.7,238.9 1156.9,233.0 1152.5,228.9 1158.5,228.1" fill="#8000ff"/>
<polygon points="1174.2,221.5 1176.7,227.0 1182.7,227.7 1178.3,231.9 1179.5,237.8 1174.2,234.9 1168.9,237.8 1170.0,231.9 1165.6,227.7 1171.6,227.0" fill="#8000ff"/>
<polygon points="1187.3,228.2 1189.9,233.6 1195.8,234.4 1191.5,238.5 1192.6,244.4 1187.3,241.6 1182.0,244.4 1183.1,238.5 1178.7,234.4 1184.7,233.6" fill="#8000ff"/>
<polygon points="1200.4,247.1 1203.0,252.6 1209.0,253.4 1204.6,257.5 1205.7,263.4 1200.4,260.5 1195.1,263.4 1196.2,257.5 1191.8,253.4 1197.8,252.6" fill="#8000ff"/>
<polygon points="1213.5,271.9 1216.1,277.3 1222.1,278.1 1217.7,282.2 1218.8,288.1 1213.5,285.3 1208.2,288.1 1209.3,282.2 1205.0,278.1 1210.9,277.3" fill="#8000ff"/>
<polygon points="1226.6,295.4 1229.2,300.9 1235.2,301.6 1230.8,305.8 1231.9,311.7 1226.6,308.8 1221.3,311.7 1222.5,305.8 1218.1,301.6 1224.1,300.9" fill="#8000ff"/>
<polygon points="1239.8,315.3 1242.3,320.8 1248.3,321.6 1243.9,325.7 1245.1,331.6 1239.8,328.7 1234.5,331.6 1235.6,325.7 1231.2,321.6 1237.2,320.8" fill="#8000ff"/>
<polygon points="1252.9,332.0 1255.5,337.5 1261.4,338.3 1257.1,342.4 1258.2,348.3 1252.9,345.4 1247.6,348.3 1248.7,342.4 1244.3,338.3 1250.3,337.5" fill="#8000ff"/>
<polygon points="1266.0,346.5 1268.6,351.9 1274.6,352.7 1270.2,356.8 1271.3,362.7 1266.0,359.9 1260.7,362.7 1261.8,356.8 1257.4,352.7 1263.4,351.9" fill="#8000ff"/>
<polygon points="1279.1,359.7 1281.7,365.2 1287.7,365.9 1283.3,370.1 1284.4,376.0 1279.1,373.1 1273.8,376.0 1274.9,370.1 1270.6,365.9 1276.5,365.2" fill="#8000ff"/>
<polygon points="1292.2,371.6 1294.8,377.1 1300.8,377.8 1296.4,382.0 1297.5,387.9 1292.2,385.0 1286.9,387.9 1288.1,382.0 1283.7,377.8 1289.7,377.1" fill="#8000ff"/>
<polygon points="1305.4,381.7 1307.9,387.1 1313.9,387.9 1309.5,392.1 1310.7,398.0 1305.4,395.1 1300.1,398.0 1301.2,392.1 1296.8,387.9 1302.8,387.1" fill="#8000ff"/>
<polygon points="1318.5,391.8 1321.1,397.2 1327.0,398.0 1322.7,402.1 1323.8,408.0 1318.5,405.2 1313.2,408.0 1314.3,402.1 1309.9,398.0 1315.9,397.2" fill="#8000ff"/>
<polygon points="1331.6,400.9 1334.2,406.4 1340.2,407.1 1335.8,411.3 1336.9,417.2 1331.6,414.3 1326.3,417.2 1327.4,411.3 1323.0,407.1 1329.0,406.4" fill="#8000ff"/>
<polygon points="1344.7,409.2 1347.3,414.6 1353.3,415.4 1348.9,419.5 1350.0,425.4 1344.7,422.6 1339.4,425.4 1340.5,419.5 1336.2,415.4 1342.1,414.6" fill="#8000ff"/>
<polygon points="1357.8,416.9 1360.4,422.4 1366.4,423.2 1362.0,427.3 1363.1,433.2 1357.8,430.3 1352.5,433.2 1353.7,427.3 1349.3,423.2 1355.3,422.4" fill="#8000ff"/>
<polygon points="1371.0,422.4 1373.5,427.9 1379.5,428.6 1375.1,432.8 1376.3,438.7 1371.0,435.8 1365.7,438.7 1366.8,432.8 1362.4,428.6 1368.4,427.9" fill="#8000ff"/>
<polygon points="1384.1,420.1 1386.7,425.6 1392.6,426.4 1388.3,430.5 1389.4,436.4 1384.1,433.5 1378.8,436.4 1379.9,430.5 1375.5,426.4 1381.5,425.6" fill="#8000ff"/>
<polygon points="1397.2,407.3 1399.8,412.8 1405.8,413.5 1401.4,417.7 1402.5,423.6 1397.2,420.7 1391.9,423.6 1393.0,417.7 1388.6,413.5 1394.6,412.8" fill="#8000ff"/>
<polyline points="150.8,739.3 163.9,651.9 177.0,561.1 190.2,541.6 203.3,559.1 216.4,575.4 229.5,594.5 242.6,619.7 255.8,626.6 268.9,586.4 282.0,573.8 295.1,619.3 308.2,634.8 321.4,640.9 334.5,655.9 347.6,655.9 360.7,650.6 373.8,646.6 387.0,647.0 400.1,651.5 413.2,661.6 426.3,675.1 439.4,688.5 452.6,699.1 465.7,705.2 478.8,707.0 491.9,707.6 505.0,708.8 518.2,710.8 531.3,713.9 544.4,716.7 557.5,718.2 570.6,717.4 583.8,715.7 596.9,714.9 610.0,714.1 623.1,712.7 636.2,711.3 649.4,709.6 662.5,707.8 675.6,705.6 688.7,704.1 701.8,703.1 715.0,701.7 728.1,700.1 741.2,697.8 754.3,694.6 767.4,690.5 780.6,686.6 793.7,682.0 806.8,677.1 819.9,671.4 833.0,664.9 846.2,658.6 859.3,651.5 872.4,645.4 885.5,638.8 898.6,632.3 911.8,626.4 924.9,620.5 938.0,614.6 951.1,608.9 964.2,603.5 977.4,598.6 990.5,592.3 1003.6,585.6 1016.7,578.0 1029.8,567.2 1043.0,547.7 1056.1,512.3 1069.2,455.0 1082.3,379.7 1095.4,303.2 1108.6,250.8 1121.7,245.1 1134.8,275.2 1147.9,302.4 1161.0,311.2 1174.2,310.2 1187.3,316.0 1200.4,332.9 1213.5,354.9 1226.6,375.8 1239.8,393.5 1252.9,408.4 1266.0,421.2 1279.1,433.0 1292.2,443.6 1305.4,452.5 1318.5,461.5 1331.6,469.6 1344.7,476.9 1357.8,483.9 1371.0,488.7 1384.1,486.7 1397.2,475.3" fill="none" stroke="#00ffff" stroke-width="2.4" stroke-linejoin="round"/>
<polygon points="145.2,730.2 161.5,739.3 145.2,748.5" fill="#00ffff"/>
<polygon points="158.3,642.7 174.6,651.9 158.3,661.0" fill="#00ffff"/>
<polygon points="171.4,552.0 187.7,561.1 171.4,570.3" fill="#00ffff"/>
<polygon points="184.6,532.5 200.9,541.6 184.6,550.8" fill="#00ffff"/>
<polygon points="197.7,550.0 214.0,559.1 197.7,568.3" fill="#00ffff"/>
<polygon points="210.8,566.2 227.1,575.4 210.8,584.5" fill="#00ffff"/>
<polygon points="223.9,585.4 240.2,594.5 223.9,603.7" fill="#00ffff"/>
<polygon points="237.0,610.6 253.3,619.7 237.0,628.9" fill="#00ffff"/>
<polygon points="250.2,617.5 266.5,626.6 250.2,635.8" fill="#00ffff"/>
<polygon points="263.3,577.2 279.6,586.4 263.3,595.5" fill="#00ffff"/>
<polygon points="276.4,564.6 292.7,573.8 276.4,582.9" fill="#00ffff"/>
<polygon points="289.5,610.2 305.8,619.3 289.5,628.5" fill="#00ffff"/>
<polygon points="302.6,625.6 318.9,634.8 302.6,643.9" fill="#00ffff"/>
<polygon points="315.8,631.7 332.1,640.9 315.8,650.0" fill="#00ffff"/>
<polygon points="328.9,646.8 345.2,655.9 328.9,665.1" fill="#00ffff"/>
<polygon points="342.0,646.8 358.3,655.9 342.0,665.1" fill="#00ffff"/>
<polygon points="355.1,641.5 371.4,650.6 355.1,659.8" fill="#00ffff"/>
<polygon points="368.2,637.4 384.5,646.6 368.2,655.7" fill="#00ffff"/>
<polygon points="381.4,637.8 397.7,647.0 381.4,656.1" fill="#00ffff"/>
<polygon points="394.5,642.3 410.8,651.5 394.5,660.6" fill="#00ffff"/>
<polygon points="407.6,652.5 423.9,661.6 407.6,670.8" fill="#00ffff"/>
<polygon points="420.7,665.9 437.0,675.1 420.7,684.2" fill="#00ffff"/>
<polygon points="433.8,679.3 450.1,688.5 433.8,697.6" fill="#00ffff"/>
<polygon points="447.0,689.9 463.3,699.1 447.0,708.2" fill="#00ffff"/>
<polygon points="460.1,696.0 476.4,705.2 460.1,714.3" fill="#00ffff"/>
<polygon points="473.2,697.8 489.5,707.0 473.2,716.1" fill="#00ffff"/>
<polygon points="486.3,698.4 502.6,707.6 486.3,716.7" fill="#00ffff"/>
<polygon points="499.4,699.7 515.7,708.8 499.4,718.0" fill="#00ffff"/>
<polygon points="512.6,701.7 528.9,710.8 512.6,720.0" fill="#00ffff"/>
<polygon points="525.7,704.8 542.0,713.9 525.7,723.1" fill="#00ffff"/>
<polygon points="538.8,707.6 555.1,716.7 538.8,725.9" fill="#00ffff"/>
<polygon points="551.9,709.0 568.2,718.2 551.9,727.3" fill="#00ffff"/>
<polygon points="565.0,708.2 581.3,717.4 565.0,726.5" fill="#00ffff"/>
<polygon points="578.2,706.6 594.5,715.7 578.2,724.9" fill="#00ffff"/>
<polygon points="591.3,705.8 607.6,714.9 591.3,724.1" fill="#00ffff"/>
<polygon points="604.4,705.0 620.7,714.1 604.4,723.3" fill="#00ffff"/>
<polygon points="617.5,703.5 633.8,712.7 617.5,721.8" fill="#00ffff"/>
<polygon points="630.6,702.1 646.9,711.3 630.6,720.4" fill="#00ffff"/>
<polygon points="643.8,700.5 660.1,709.6 643.8,718.8" fill="#00ffff"/>
<polygon points="656.9,698.6 673.2,707.8 656.9,716.9" fill="#00ffff"/>
<polygon points="670.0,696.4 686.3,705.6 670.0,714.7" fill="#00ffff"/>
<polygon points="683.1,695.0 699.4,704.1 683.1,713.3" fill="#00ffff"/>
<polygon points="696.2,694.0 712.5,703.1 696.2,712.3" fill="#00ffff"/>
<polygon points="709.4,692.5 725.7,701.7 709.4,710.8" fill="#00ffff"/>
<polygon points="722.5,690.9 738.8,700.1 722.5,709.2" fill="#00ffff"/>
<polygon points="735.6,688.7 751.9,697.8 735.6,707.0" fill="#00ffff"/>
<polygon points="748.7,685.4 765.0,694.6 748.7,703.7" fill="#00ffff"/>
<polygon points="761.8,681.4 778.1,690.5 761.8,699.7" fill="#00ffff"/>
<polygon points="775.0,677.5 791.3,686.6 775.0,695.8" fill="#00ffff"/>
<polygon points="788.1,672.8 804.4,682.0 788.1,691.1" fill="#00ffff"/>
<polygon points="801.2,667.9 817.5,677.1 801.2,686.2" fill="#00ffff"/>
<polygon points="814.3,662.2 830.6,671.4 814.3,680.5" fill="#00ffff"/>
<polygon points="827.4,655.7 843.7,664.9 827.4,674.0" fill="#00ffff"/>
<polygon points="840.6,649.4 856.9,658.6 840.6,667.7" fill="#00ffff"/>
<polygon points="853.7,642.3 870.0,651.5 853.7,660.6" fill="#00ffff"/>
<polygon points="866.8,636.2 883.1,645.4 866.8,654.5" fill="#00ffff"/>
<polygon points="879.9,629.7 896.2,638.8 879.9,648.0" fill="#00ffff"/>
<polygon points="893.0,623.2 909.3,632.3 893.0,641.5" fill="#00ffff"/>
<polygon points="906.2,617.3 922.5,626.4 906.2,635.6" fill="#00ffff"/>
<polygon points="919.3,611.4 935.6,620.5 919.3,629.7" fill="#00ffff"/>
<polygon points="932.4,605.5 948.7,614.6 932.4,623.8" fill="#00ffff"/>
<polygon points="945.5,599.8 961.8,608.9 945.5,618.1" fill="#00ffff"/>
<polygon points="958.6,594.3 974.9,603.5 958.6,612.6" fill="#00ffff"/>
<polygon points="971.8,589.4 988.1,598.6 971.8,607.7" fill="#00ffff"/>
<polygon points="984.9,583.1 1001.2,592.3 984.9,601.4" fill="#00ffff"/>
<polygon points="998.0,576.4 1014.3,585.6 998.0,594.7" fill="#00ffff"/>
<polygon points="1011.1,568.9 1027.4,578.0 1011.1,587.2" fill="#00ffff"/>
<polygon points="1024.2,558.1 1040.5,567.2 1024.2,576.4" fill="#00ffff"/>
<polygon points="1037.4,538.6 1053.7,547.7 1037.4,556.9" fill="#00ffff"/>
<polygon points="1050.5,503.2 1066.8,512.3 1050.5,521.5" fill="#00ffff"/>
<polygon points="1063.6,445.8 1079.9,455.0 1063.6,464.1" fill="#00ffff"/>
<polygon points="1076.7,370.6 1093.0,379.7 1076.7,388.9" fill="#00ffff"/>
<polygon points="1089.8,294.1 1106.1,303.2 1089.8,312.4" fill="#00ffff"/>
<polygon points="1103.0,241.6 1119.3,250.8 1103.0,259.9" fill="#00ffff"/>
<polygon points="1116.1,235.9 1132.4,245.1 1116.1,254.2" fill="#00ffff"/>
<polygon points="1129.2,266.0 1145.5,275.2 1129.2,284.3" fill="#00ffff"/>
<polygon points="1142.3,293.3 1158.6,302.4 1142.3,311.6" fill="#00ffff"/>
<polygon points="1155.4,302.0 1171.7,311.2 1155.4,320.3" fill="#00ffff"/>
<polygon points="1168.6,301.0 1184.9,310.2 1168.6,319.3" fill="#00ffff"/>
<polygon points="1181.7,306.9 1198.0,316.0 1181.7,325.2" fill="#00ffff"/>
<polygon points="1194.8,323.8 1211.1,332.9 1194.8,342.1" fill="#00ffff"/>
<polygon points="1207.9,345.7 1224.2,354.9 1207.9,364.0" fill="#00ffff"/>
<polygon points="1221.0,366.7 1237.3,375.8 1221.0,385.0" fill="#00ffff"/>
<polygon points="1234.2,384.4 1250.5,393.5 1234.2,402.7" fill="#00ffff"/>
<polygon points="1247.3,399.2 1263.6,408.4 1247.3,417.5" fill="#00ffff"/>
<polygon points="1260.4,412.1 1276.7,421.2 1260.4,430.4" fill="#00ffff"/>
<polygon points="1273.5,423.9 1289.8,433.0 1273.5,442.2" fill="#00ffff"/>
<polygon points="1286.6,434.4 1302.9,443.6 1286.6,452.7" fill="#00ffff"/>
<polygon points="1299.8,443.4 1316.1,452.5 1299.8,461.7" fill="#00ffff"/>
<polygon points="1312.9,452.3 1329.2,461.5 1312.9,470.6" fill="#00ffff"/>
<polygon points="1326.0,460.5 1342.3,469.6 1326.0,478.8" fill="#00ffff"/>
<polygon points="1339.1,467.8 1355.4,476.9 1339.1,486.1" fill="#00ffff"/>
<polygon points="1352.2,474.7 1368.5,483.9 1352.2,493.0" fill="#00ffff"/>
<polygon points="1365.4,479.6 1381.7,488.7 1365.4,497.9" fill="#00ffff"/>
<polygon points="1378.5,477.6 1394.8,486.7 1378.5,495.9" fill="#00ffff"/>
<polygon points="1391.6,466.2 1407.9,475.3 1391.6,484.5" fill="#00ffff"/>
<polyline points="150.8,765.3 163.9,688.8 177.0,609.4 190.2,592.3 203.3,607.6 216.4,621.9 229.5,638.6 242.6,660.7 255.8,666.7 268.9,631.5 282.0,620.4 295.1,660.3 308.2,673.8 321.4,679.2 334.5,692.3 347.6,692.3 360.7,687.7 373.8,684.2 387.0,684.5 400.1,688.4 413.2,697.3 426.3,709.1 439.4,720.8 452.6,730.1 465.7,735.4 478.8,737.0 491.9,737.5 505.0,738.6 518.2,740.4 531.3,743.1 544.4,745.6 557.5,746.8 570.6,746.1 583.8,744.7 596.9,744.0 610.0,743.2 623.1,742.0 636.2,740.7 649.4,739.3 662.5,737.7 675.6,735.8 688.7,734.5 701.8,733.6 715.0,732.4 728.1,731.0 741.2,729.0 754.3,726.2 767.4,722.6 780.6,719.2 793.7,715.1 806.8,710.8 819.9,705.9 833.0,700.2 846.2,694.7 859.3,688.4 872.4,683.1 885.5,677.4 898.6,671.7 911.8,666.5 924.9,661.4 938.0,656.2 951.1,651.2 964.2,646.4 977.4,642.2 990.5,636.6 1003.6,630.8 1016.7,624.2 1029.8,614.7 1043.0,597.7 1056.1,566.7 1069.2,516.5 1082.3,450.6 1095.4,383.7 1108.6,337.8 1121.7,332.8 1134.8,359.2 1147.9,383.0 1161.0,390.7 1174.2,389.8 1187.3,394.9 1200.4,409.7 1213.5,428.9 1226.6,447.3 1239.8,462.8 1252.9,475.7 1266.0,487.0 1279.1,497.3 1292.2,506.5 1305.4,514.4 1318.5,522.2 1331.6,529.3 1344.7,535.7 1357.8,541.8 1371.0,546.0 1384.1,544.3 1397.2,534.3" fill="none" stroke="#00ff00" stroke-width="2.9" stroke-linejoin="round"/>
<circle cx="150.8" cy="765.3" r="7.65" fill="url(#gb)"/>
<circle cx="163.9" cy="688.8" r="7.65" fill="url(#gb)"/>
<circle cx="177.0" cy="609.4" r="7.65" fill="url(#gb)"/>
<circle cx="190.2" cy="592.3" r="7.65" fill="url(#gb)"/>
<circle cx="203.3" cy="607.6" r="7.65" fill="url(#gb)"/>
<circle cx="216.4" cy="621.9" r="7.65" fill="url(#gb)"/>
<circle cx="229.5" cy="638.6" r="7.65" fill="url(#gb)"/>
<circle cx="242.6" cy="660.7" r="7.65" fill="url(#gb)"/>
<circle cx="255.8" cy="666.7" r="7.65" fill="url(#gb)"/>
<circle cx="268.9" cy="631.5" r="7.65" fill="url(#gb)"/>
<circle cx="282.0" cy="620.4" r="7.65" fill="url(#gb)"/>
<circle cx="295.1" cy="660.3" r="7.65" fill="url(#gb)"/>
<circle cx="308.2" cy="673.8" r="7.65" fill="url(#gb)"/>
<circle cx="321.4" cy="679.2" r="7.65" fill="url(#gb)"/>
<circle cx="334.5" cy="692.3" r="7.65" fill="url(#gb)"/>
<circle cx="347.6" cy="692.3" r="7.65" fill="url(#gb)"/>
<circle cx="360.7" cy="687.7" r="7.65" fill="url(#gb)"/>
<circle cx="373.8" cy="684.2" r="7.65" fill="url(#gb)"/>
<circle cx="387.0" cy="684.5" r="7.65" fill="url(#gb)"/>
<circle cx="400.1" cy="688.4" r="7.65" fill="url(#gb)"/>
<circle cx="413.2" cy="697.3" r="7.65" fill="url(#gb)"/>
<circle cx="426.3" cy="709.1" r="7.65" fill="url(#gb)"/>
<circle cx="439.4" cy="720.8" r="7.65" fill="url(#gb)"/>
<circle cx="452.6" cy="730.1" r="7.65" fill="url(#gb)"/>
<circle cx="465.7" cy="735.4" r="7.65" fill="url(#gb)"/>
<circle cx="478.8" cy="737.0" r="7.65" fill="url(#gb)"/>
<circle cx="491.9" cy="737.5" r="7.65" fill="url(#gb)"/>
<circle cx="505.0" cy="738.6" r="7.65" fill="url(#gb)"/>
<circle cx="518.2" cy="740.4" r="7.65" fill="url(#gb)"/>
<circle cx="531.3" cy="743.1" r="7.65" fill="url(#gb)"/>
<circle cx="544.4" cy="745.6" r="7.65" fill="url(#gb)"/>
<circle cx="557.5" cy="746.8" r="7.65" fill="url(#gb)"/>
<circle cx="570.6" cy="746.1" r="7.65" fill="url(#gb)"/>
<circle cx="583.8" cy="744.7" r="7.65" fill="url(#gb)"/>
<circle cx="596.9" cy="744.0" r="7.65" fill="url(#gb)"/>
<circle cx="610.0" cy="743.2" r="7.65" fill="url(#gb)"/>
<circle cx="623.1" cy="742.0" r="7.65" fill="url(#gb)"/>
<circle cx="636.2" cy="740.7" r="7.65" fill="url(#gb)"/>
<circle cx="649.4" cy="739.3" r="7.65" fill="url(#gb)"/>
<circle cx="662.5" cy="737.7" r="7.65" fill="url(#gb)"/>
<circle cx="675.6" cy="735.8" r="7.65" fill="url(#gb)"/>
<circle cx="688.7" cy="734.5" r="7.65" fill="url(#gb)"/>
<circle cx="701.8" cy="733.6" r="7.65" fill="url(#gb)"/>
<circle cx="715.0" cy="732.4" r="7.65" fill="url(#gb)"/>
<circle cx="728.1" cy="731.0" r="7.65" fill="url(#gb)"/>
<circle cx="741.2" cy="729.0" r="7.65" fill="url(#gb)"/>
<circle cx="754.3" cy="726.2" r="7.65" fill="url(#gb)"/>
<circle cx="767.4" cy="722.6" r="7.65" fill="url(#gb)"/>
<circle cx="780.6" cy="719.2" r="7.65" fill="url(#gb)"/>
<circle cx="793.7" cy="715.1" r="7.65" fill="url(#gb)"/>
<circle cx="806.8" cy="710.8" r="7.65" fill="url(#gb)"/>
<circle cx="819.9" cy="705.9" r="7.65" fill="url(#gb)"/>
<circle cx="833.0" cy="700.2" r="7.65" fill="url(#gb)"/>
<circle cx="846.2" cy="694.7" r="7.65" fill="url(#gb)"/>
<circle cx="859.3" cy="688.4" r="7.65" fill="url(#gb)"/>
<circle cx="872.4" cy="683.1" r="7.65" fill="url(#gb)"/>
<circle cx="885.5" cy="677.4" r="7.65" fill="url(#gb)"/>
<circle cx="898.6" cy="671.7" r="7.65" fill="url(#gb)"/>
<circle cx="911.8" cy="666.5" r="7.65" fill="url(#gb)"/>
<circle cx="924.9" cy="661.4" r="7.65" fill="url(#gb)"/>
<circle cx="938.0" cy="656.2" r="7.65" fill="url(#gb)"/>
<circle cx="951.1" cy="651.2" r="7.65" fill="url(#gb)"/>
<circle cx="964.2" cy="646.4" r="7.65" fill="url(#gb)"/>
<circle cx="977.4" cy="642.2" r="7.65" fill="url(#gb)"/>
<circle cx="990.5" cy="636.6" r="7.65" fill="url(#gb)"/>
<circle cx="1003.6" cy="630.8" r="7.65" fill="url(#gb)"/>
<circle cx="1016.7" cy="624.2" r="7.65" fill="url(#gb)"/>
<circle cx="1029.8" cy="614.7" r="7.65" fill="url(#gb)"/>
<circle cx="1043.0" cy="597.7" r="7.65" fill="url(#gb)"/>
<circle cx="1056.1" cy="566.7" r="7.65" fill="url(#gb)"/>
<circle cx="1069.2" cy="516.5" r="7.65" fill="url(#gb)"/>
<circle cx="1082.3" cy="450.6" r="7.65" fill="url(#gb)"/>
<circle cx="1095.4" cy="383.7" r="7.65" fill="url(#gb)"/>
<circle cx="1108.6" cy="337.8" r="7.65" fill="url(#gb)"/>
<circle cx="1121.7" cy="332.8" r="7.65" fill="url(#gb)"/>
<circle cx="1134.8" cy="359.2" r="7.65" fill="url(#gb)"/>
<circle cx="1147.9" cy="383.0" r="7.65" fill="url(#gb)"/>
<circle cx="1161.0" cy="390.7" r="7.65" fill="url(#gb)"/>
<circle cx="1174.2" cy="389.8" r="7.65" fill="url(#gb)"/>
<circle cx="1187.3" cy="394.9" r="7.65" fill="url(#gb)"/>
<circle cx="1200.4" cy="409.7" r="7.65" fill="url(#gb)"/>
<circle cx="1213.5" cy="428.9" r="7.65" fill="url(#gb)"/>
<circle cx="1226.6" cy="447.3" r="7.65" fill="url(#gb)"/>
<circle cx="1239.8" cy="462.8" r="7.65" fill="url(#gb)"/>
<circle cx="1252.9" cy="475.7" r="7.65" fill="url(#gb)"/>
<circle cx="1266.0" cy="487.0" r="7.65" fill="url(#gb)"/>
<circle cx="1279.1" cy="497.3" r="7.65" fill="url(#gb)"/>
<circle cx="1292.2" cy="506.5" r="7.65" fill="url(#gb)"/>
<circle cx="1305.4" cy="514.4" r="7.65" fill="url(#gb)"/>
<circle cx="1318.5" cy="522.2" r="7.65" fill="url(#gb)"/>
<circle cx="1331.6" cy="529.3" r="7.65" fill="url(#gb)"/>
<circle cx="1344.7" cy="535.7" r="7.65" fill="url(#gb)"/>
<circle cx="1357.8" cy="541.8" r="7.65" fill="url(#gb)"/>
<circle cx="1371.0" cy="546.0" r="7.65" fill="url(#gb)"/>
<circle cx="1384.1" cy="544.3" r="7.65" fill="url(#gb)"/>
<circle cx="1397.2" cy="534.3" r="7.65" fill="url(#gb)"/>
<polyline points="150.8,791.3 163.9,725.7 177.0,657.7 190.2,643.0 203.3,656.1 216.4,668.3 229.5,682.7 242.6,701.6 255.8,706.8 268.9,676.6 282.0,667.1 295.1,701.3 308.2,712.9 321.4,717.5 334.5,728.7 347.6,728.7 360.7,724.8 373.8,721.7 387.0,722.0 400.1,725.4 413.2,733.0 426.3,743.1 439.4,753.2 452.6,761.1 465.7,765.7 478.8,767.0 491.9,767.5 505.0,768.4 518.2,769.9 531.3,772.2 544.4,774.4 557.5,775.4 570.6,774.8 583.8,773.6 596.9,773.0 610.0,772.4 623.1,771.3 636.2,770.2 649.4,769.0 662.5,767.6 675.6,766.0 688.7,764.9 701.8,764.1 715.0,763.1 728.1,761.9 741.2,760.2 754.3,757.7 767.4,754.7 780.6,751.8 793.7,748.3 806.8,744.6 819.9,740.3 833.0,735.5 846.2,730.7 859.3,725.4 872.4,720.8 885.5,715.9 898.6,711.1 911.8,706.6 924.9,702.2 938.0,697.8 951.1,693.5 964.2,689.4 977.4,685.7 990.5,681.0 1003.6,676.0 1016.7,670.3 1029.8,662.2 1043.0,647.6 1056.1,621.0 1069.2,578.0 1082.3,521.6 1095.4,464.2 1108.6,424.9 1121.7,420.6 1134.8,443.2 1147.9,463.6 1161.0,470.2 1174.2,469.4 1187.3,473.8 1200.4,486.5 1213.5,503.0 1226.6,518.7 1239.8,532.0 1252.9,543.1 1266.0,552.7 1279.1,561.6 1292.2,569.5 1305.4,576.2 1318.5,582.9 1331.6,589.0 1344.7,594.5 1357.8,599.7 1371.0,603.4 1384.1,601.8 1397.2,593.3" fill="none" stroke="#000000" stroke-width="2.0" stroke-linejoin="round"/>
<rect x="143.4" y="784.3" width="14.9" height="14" fill="#000000"/>
<rect x="156.5" y="718.7" width="14.9" height="14" fill="#000000"/>
<rect x="169.6" y="650.7" width="14.9" height="14" fill="#000000"/>
<rect x="182.7" y="636.0" width="14.9" height="14" fill="#000000"/>
<rect x="195.8" y="649.1" width="14.9" height="14" fill="#000000"/>
<rect x="209.0" y="661.3" width="14.9" height="14" fill="#000000"/>
<rect x="222.1" y="675.7" width="14.9" height="14" fill="#000000"/>
<rect x="235.2" y="694.6" width="14.9" height="14" fill="#000000"/>
<rect x="248.3" y="699.8" width="14.9" height="14" fill="#000000"/>
<rect x="261.4" y="669.6" width="14.9" height="14" fill="#000000"/>
<rect x="274.6" y="660.1" width="14.9" height="14" fill="#000000"/>
<rect x="287.7" y="694.3" width="14.9" height="14" fill="#000000"/>
<rect x="300.8" y="705.9" width="14.9" height="14" fill="#000000"/>
<rect x="313.9" y="710.5" width="14.9" height="14" fill="#000000"/>
<rect x="327.0" y="721.7" width="14.9" height="14" fill="#000000"/>
<rect x="340.2" y="721.7" width="14.9" height="14" fill="#000000"/>
<rect x="353.3" y="717.8" width="14.9" height="14" fill="#000000"/>
<rect x="366.4" y="714.7" width="14.9" height="14" fill="#000000"/>
<rect x="379.5" y="715.0" width="14.9" height="14" fill="#000000"/>
<rect x="392.6" y="718.4" width="14.9" height="14" fill="#000000"/>
<rect x="405.8" y="726.0" width="14.9" height="14" fill="#000000"/>
<rect x="418.9" y="736.1" width="14.9" height="14" fill="#000000"/>
<rect x="432.0" y="746.2" width="14.9" height="14" fill="#000000"/>
<rect x="445.1" y="754.1" width="14.9" height="14" fill="#000000"/>
<rect x="458.2" y="758.7" width="14.9" height="14" fill="#000000"/>
<rect x="471.4" y="760.0" width="14.9" height="14" fill="#000000"/>
<rect x="484.5" y="760.5" width="14.9" height="14" fill="#000000"/>
<rect x="497.6" y="761.4" width="14.9" height="14" fill="#000000"/>
<rect x="510.7" y="762.9" width="14.9" height="14" fill="#000000"/>
<rect x="523.8" y="765.2" width="14.9" height="14" fill="#000000"/>
<rect x="536.9" y="767.4" width="14.9" height="14" fill="#000000"/>
<rect x="550.1" y="768.4" width="14.9" height="14" fill="#000000"/>
<rect x="563.2" y="767.8" width="14.9" height="14" fill="#000000"/>
<rect x="576.3" y="766.6" width="14.9" height="14" fill="#000000"/>
<rect x="589.4" y="766.0" width="14.9" height="14" fill="#000000"/>
<rect x="602.5" y="765.4" width="14.9" height="14" fill="#000000"/>
<rect x="615.7" y="764.3" width="14.9" height="14" fill="#000000"/>
<rect x="628.8" y="763.2" width="14.9" height="14" fill="#000000"/>
<rect x="641.9" y="762.0" width="14.9" height="14" fill="#000000"/>
<rect x="655.0" y="760.6" width="14.9" height="14" fill="#000000"/>
<rect x="668.1" y="759.0" width="14.9" height="14" fill="#000000"/>
<rect x="681.3" y="757.9" width="14.9" height="14" fill="#000000"/>
<rect x="694.4" y="757.1" width="14.9" height="14" fill="#000000"/>
<rect x="707.5" y="756.1" width="14.9" height="14" fill="#000000"/>
<rect x="720.6" y="754.9" width="14.9" height="14" fill="#000000"/>
<rect x="733.8" y="753.2" width="14.9" height="14" fill="#000000"/>
<rect x="746.9" y="750.7" width="14.9" height="14" fill="#000000"/>
<rect x="760.0" y="747.7" width="14.9" height="14" fill="#000000"/>
<rect x="773.1" y="744.8" width="14.9" height="14" fill="#000000"/>
<rect x="786.2" y="741.3" width="14.9" height="14" fill="#000000"/>
<rect x="799.3" y="737.6" width="14.9" height="14" fill="#000000"/>
<rect x="812.5" y="733.3" width="14.9" height="14" fill="#000000"/>
<rect x="825.6" y="728.5" width="14.9" height="14" fill="#000000"/>
<rect x="838.7" y="723.7" width="14.9" height="14" fill="#000000"/>
<rect x="851.8" y="718.4" width="14.9" height="14" fill="#000000"/>
<rect x="864.9" y="713.8" width="14.9" height="14" fill="#000000"/>
<rect x="878.1" y="708.9" width="14.9" height="14" fill="#000000"/>
<rect x="891.2" y="704.1" width="14.9" height="14" fill="#000000"/>
<rect x="904.3" y="699.6" width="14.9" height="14" fill="#000000"/>
<rect x="917.4" y="695.2" width="14.9" height="14" fill="#000000"/>
<rect x="930.5" y="690.8" width="14.9" height="14" fill="#000000"/>
<rect x="943.7" y="686.5" width="14.9" height="14" fill="#000000"/>
<rect x="956.8" y="682.4" width="14.9" height="14" fill="#000000"/>
<rect x="969.9" y="678.7" width="14.9" height="14" fill="#000000"/>
<rect x="983.0" y="674.0" width="14.9" height="14" fill="#000000"/>
<rect x="996.1" y="669.0" width="14.9" height="14" fill="#000000"/>
<rect x="1009.3" y="663.3" width="14.9" height="14" fill="#000000"/>
<rect x="1022.4" y="655.2" width="14.9" height="14" fill="#000000"/>
<rect x="1035.5" y="640.6" width="14.9" height="14" fill="#000000"/>
<rect x="1048.6" y="614.0" width="14.9" height="14" fill="#000000"/>
<rect x="1061.8" y="571.0" width="14.9" height="14" fill="#000000"/>
<rect x="1074.9" y="514.6" width="14.9" height="14" fill="#000000"/>
<rect x="1088.0" y="457.2" width="14.9" height="14" fill="#000000"/>
<rect x="1101.1" y="417.9" width="14.9" height="14" fill="#000000"/>
<rect x="1114.2" y="413.6" width="14.9" height="14" fill="#000000"/>
<rect x="1127.3" y="436.2" width="14.9" height="14" fill="#000000"/>
<rect x="1140.5" y="456.6" width="14.9" height="14" fill="#000000"/>
<rect x="1153.6" y="463.2" width="14.9" height="14" fill="#000000"/>
<rect x="1166.7" y="462.4" width="14.9" height="14" fill="#000000"/>
<rect x="1179.8" y="466.8" width="14.9" height="14" fill="#000000"/>
<rect x="1192.9" y="479.5" width="14.9" height="14" fill="#000000"/>
<rect x="1206.1" y="496.0" width="14.9" height="14" fill="#000000"/>
<rect x="1219.2" y="511.7" width="14.9" height="14" fill="#000000"/>
<rect x="1232.3" y="525.0" width="14.9" height="14" fill="#000000"/>
<rect x="1245.4" y="536.1" width="14.9" height="14" fill="#000000"/>
<rect x="1258.5" y="545.7" width="14.9" height="14" fill="#000000"/>
<rect x="1271.7" y="554.6" width="14.9" height="14" fill="#000000"/>
<rect x="1284.8" y="562.5" width="14.9" height="14" fill="#000000"/>
<rect x="1297.9" y="569.2" width="14.9" height="14" fill="#000000"/>
<rect x="1311.0" y="575.9" width="14.9" height="14" fill="#000000"/>
<rect x="1324.1" y="582.0" width="14.9" height="14" fill="#000000"/>
<rect x="1337.3" y="587.5" width="14.9" height="14" fill="#000000"/>
<rect x="1350.4" y="592.7" width="14.9" height="14" fill="#000000"/>
<rect x="1363.5" y="596.4" width="14.9" height="14" fill="#000000"/>
<rect x="1376.6" y="594.8" width="14.9" height="14" fill="#000000"/>
<rect x="1389.7" y="586.3" width="14.9" height="14" fill="#000000"/>
</g>
<line x1="736.2" y1="105.0" x2="836.8" y2="105.0" stroke="#ff00ff" stroke-width="2.4"/>
<polygon points="786.5,96.0 795.4,102.5 792.0,113.0 781.0,113.0 777.6,102.5" fill="#ff00ff"/>
<text class="lg" x="850" y="120.0">10mm</text>
<line x1="736.2" y1="158.4" x2="836.8" y2="158.4" stroke="#8000ff" stroke-width="3.1"/>
<polygon points="786.5,149.4 789.1,154.9 795.1,155.7 790.7,159.8 791.8,165.7 786.5,162.8 781.2,165.7 782.3,159.8 777.9,155.7 783.9,154.9" fill="#8000ff"/>
<text class="lg" x="850" y="173.7">12mm</text>
<line x1="736.2" y1="212.0" x2="836.8" y2="212.0" stroke="#00ffff" stroke-width="2.4"/>
<polygon points="780.9,202.8 797.2,212.0 780.9,221.2" fill="#00ffff"/>
<text class="lg" x="850" y="227.3">14mm</text>
<line x1="736.2" y1="265.4" x2="836.8" y2="265.4" stroke="#00ff00" stroke-width="2.9"/>
<circle cx="786.5" cy="265.4" r="7.65" fill="url(#gb)"/>
<text class="lg" x="850" y="280.8">16mm</text>
<line x1="736.2" y1="318.9" x2="836.8" y2="318.9" stroke="#000000" stroke-width="2.0"/>
<rect x="779.0" y="311.9" width="14.9" height="14" fill="#000000"/>
<text class="lg" x="850" y="334.2">18mm</text>
</svg></body></html>
